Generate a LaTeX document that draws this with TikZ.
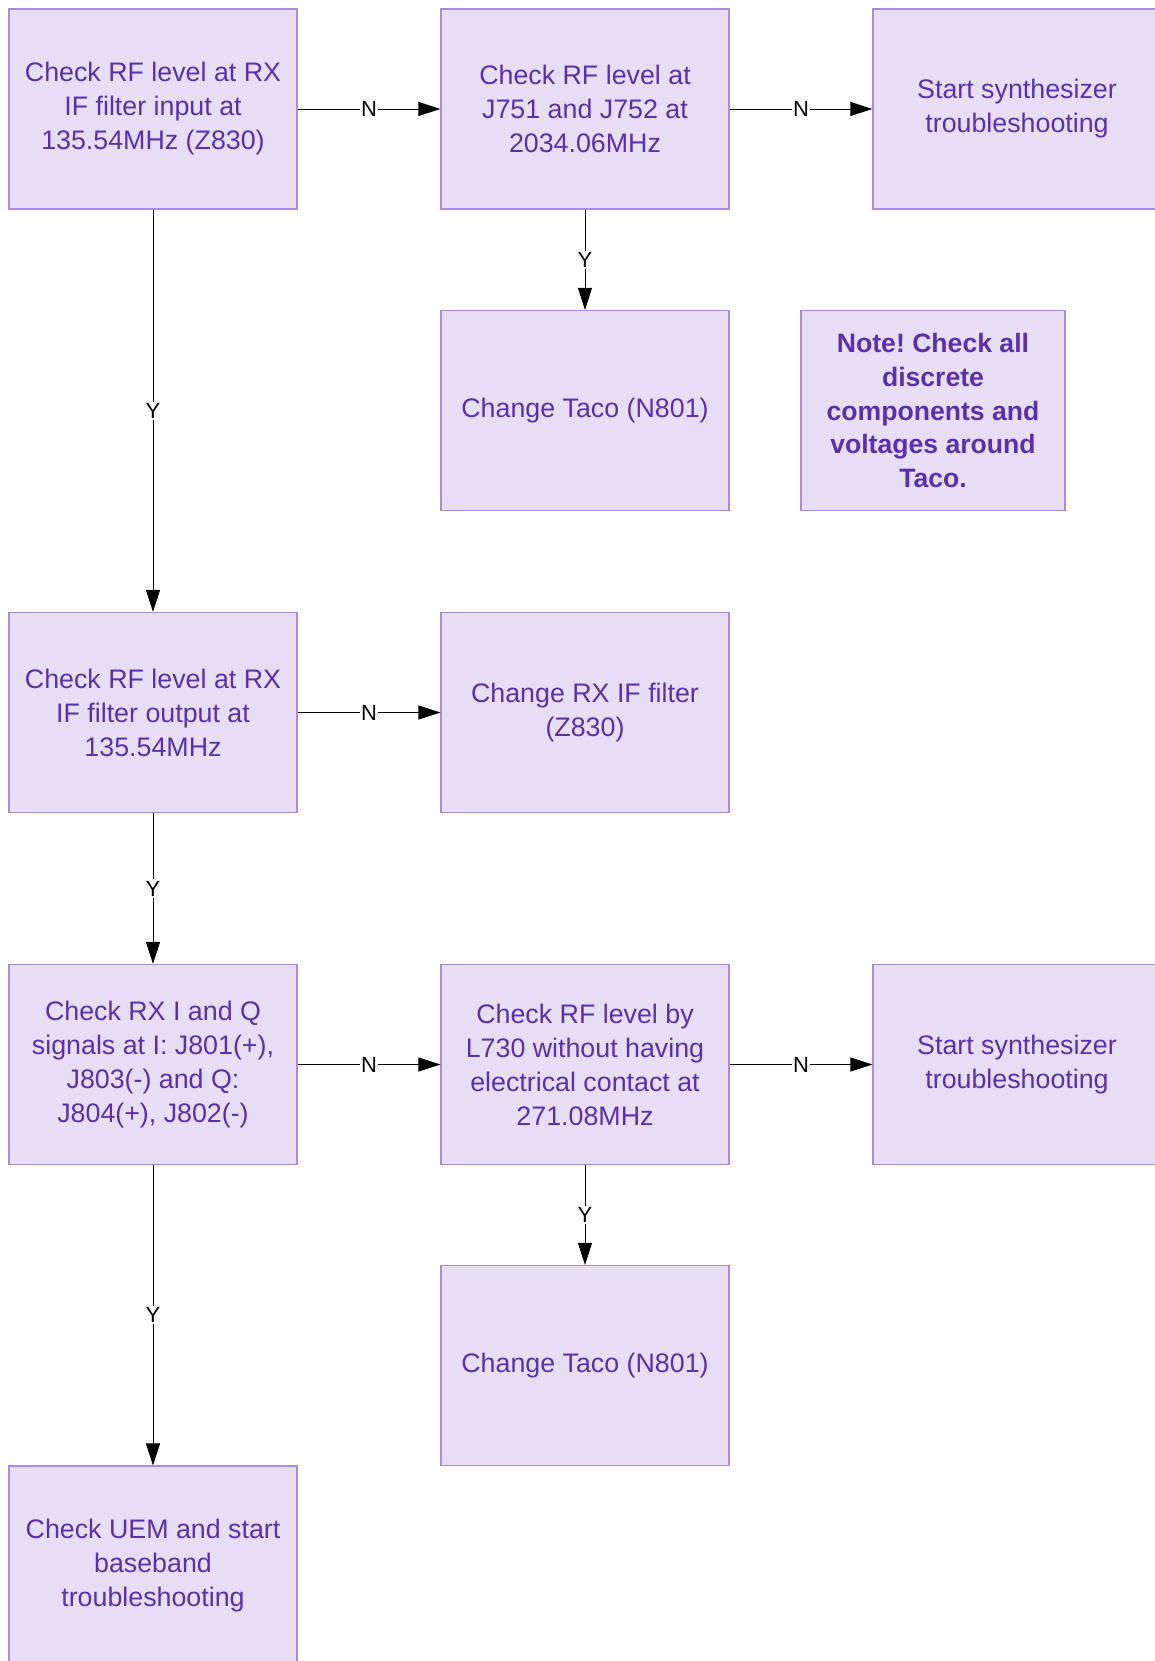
\documentclass[tikz,border=0pt]{standalone}
\usepackage{fontspec}
\setmainfont{Liberation Sans}
\usetikzlibrary{arrows.meta}
\definecolor{boxfill}{HTML}{E7DEF5}
\definecolor{boxline}{HTML}{A98AE6}
\definecolor{boxtext}{HTML}{5B2FB3}
\frenchspacing
\begin{document}
\begin{tikzpicture}[x=1pt,y=-1pt,
  stepbox/.style={draw=boxline,line width=1.2pt,fill=boxfill,text=boxtext,
    minimum width=288pt,minimum height=200pt,inner sep=0pt,align=center,
    font=\fontsize{26.8}{34}\selectfont},
  notebox/.style={stepbox,minimum width=264pt,font=\fontsize{26.6}{33.6}\selectfont\bfseries},
  flow/.style={draw=black,line width=0.9pt,-{Triangle[length=22pt,width=14pt]}},
  lab/.style={fill=white,inner sep=1.5pt,text=black,font=\fontsize{22}{22}\selectfont}]
\useasboundingbox (0,0) rectangle (1155,1661);
\clip (0,0) rectangle (1155,1661);
% first row
\node[stepbox] (a) at (153,109) {Check RF level at RX\\IF filter input at\\135.54MHz (Z830)};
\node[stepbox] (b) at (585,109) {Check RF level at\\J751 and J752 at\\2034.06MHz};
\node[stepbox] (c) at (1017,109) {Start synthesizer\\troubleshooting};
% second row
\node[stepbox] (d) at (585,410.5) {Change Taco (N801)};
\node[notebox] (note) at (933,410.5) {Note! Check all\\discrete\\components and\\voltages around\\Taco.};
% third row
\node[stepbox] (e) at (153,712.5) {Check RF level at RX\\IF filter output at\\135.54MHz};
\node[stepbox] (f) at (585,712.5) {Change RX IF filter\\(Z830)};
% fourth row
\node[stepbox] (g) at (153,1064.5) {Check RX I and Q\\signals at I: J801(+),\\J803(-) and Q:\\J804(+), J802(-)};
\node[stepbox] (h) at (585,1064.5) {Check RF level by\\L730 without having\\electrical contact at\\271.08MHz};
\node[stepbox] (i) at (1017,1064.5) {Start synthesizer\\troubleshooting};
% fifth and sixth rows
\node[stepbox] (j) at (585,1365.5) {Change Taco (N801)};
\node[stepbox] (k) at (153,1566) {Check UEM and start\\baseband\\troubleshooting};
% connectors
\draw[flow] (a) -- node[lab]{N} (b);
\draw[flow] (b) -- node[lab]{N} (c);
\draw[flow] (b) -- node[lab]{Y} (d);
\draw[flow] (a) -- node[lab]{Y} (e);
\draw[flow] (e) -- node[lab]{N} (f);
\draw[flow] (e) -- node[lab]{Y} (g);
\draw[flow] (g) -- node[lab]{N} (h);
\draw[flow] (h) -- node[lab]{N} (i);
\draw[flow] (h) -- node[lab]{Y} (j);
\draw[flow] (g) -- node[lab]{Y} (k);
\end{tikzpicture}
\end{document}
